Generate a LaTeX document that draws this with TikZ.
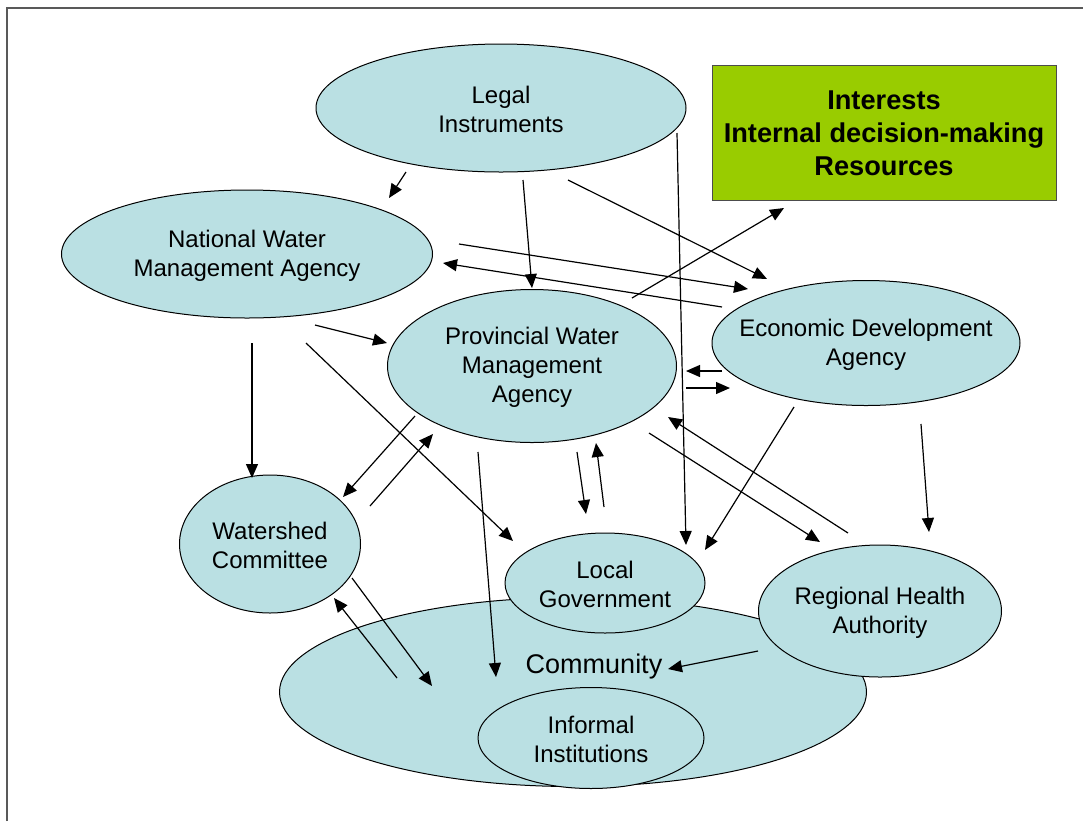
\documentclass[tikz,border=0pt]{standalone}
\usepackage{fontspec}
\setmainfont{Liberation Sans}
\usetikzlibrary{shapes.geometric,arrows.meta}
\definecolor{pale}{RGB}{186,224,227}
\definecolor{leaf}{RGB}{153,204,0}
\tikzset{>={Triangle[length=7pt,width=6pt]}}
\tikzset{
    actor/.style={ellipse, draw, fill=pale, line width=0.5pt, inner sep=0pt},
    actortext/.style={align=center, yshift=-0.8pt, font=\fontsize{12}{14.5}\selectfont},
}
% ellipse with its text: name, x, y, width, height (px), text
\newcommand{\actor}[6]{
    \node[actor, minimum width=#4*0.5pt, minimum height=#5*0.5pt] (#1) at (#2,#3) {};
    \node[actortext] (#1-text) at (#1) {#6};
}
% loose arrow between two named points
\newcommand{\flow}[3]{
    \coordinate (#1-from) at (#2);
    \coordinate (#1-to) at (#3);
    \draw[->, line width=0.6pt] (#1-from) -- (#1-to);
}

\begin{document}
\begin{tikzpicture}[x=0.5pt,y=-0.5pt]
    \useasboundingbox (0,0) rectangle (1083,821);
    \draw[black!65, line width=0.7pt] (7,821) -- (7,8) -- (1083,8);

    % community sits underneath
    \node[actor, minimum width=293.5pt, minimum height=94.5pt] (com) at (573,692) {};
    \node[font=\fontsize{13.5}{16}\selectfont] (com-text) at (594,667) {Community};

    \actor{li}{501}{108}{370}{128}{Legal\\Instruments}
    \actor{nw}{247}{254}{371}{128}{National Water\\Management Agency}
    \actor{pw}{532}{366}{289}{153}{Provincial Water\\Management\\Agency}
    \actor{ed}{866}{343}{308}{125}{Economic Development\\Agency}
    \actor{wc}{270}{544}{181}{138}{Watershed\\Committee}
    \actor{lg}{605}{583}{200}{100}{Local\\Government}
    \actor{rh}{880}{611}{243}{132}{Regional Health\\Authority}
    \actor{ii}{591}{738}{226}{101}{Informal\\Institutions}

    \node[draw=black!70, fill=leaf, minimum width=172pt, minimum height=67.5pt, inner sep=0pt,
          align=center, font=\bfseries\fontsize{13.6}{16.5}\selectfont]
        (ird) at (884,133) {Interests\\Internal decision-making\\Resources};

    \flow{li-nw}{406,172}{389,198}
    \flow{li-pw}{523,180}{532,288}
    \flow{li-ed}{568,180}{767,279}
    \flow{li-lg}{677,133}{686,545}
    \flow{nw-ed}{459,244}{748,289}
    \flow{ed-nw}{722,307}{443,263}
    \flow{pw-ird}{632,298}{784,208}
    \flow{nw-pw}{315,325}{387,343}
    \flow{nw-wc}{252,343}{252,478}
    \flow{nw-lg}{306,343}{513,541}
    \flow{pw-wc}{415,416}{343,497}
    \flow{wc-pw}{370,506}{433,434}
    \flow{pw-com}{478,452}{496,677}
    \flow{pw-lg}{577,452}{586,514}
    \flow{lg-pw}{604,507}{596,443}
    \flow{ed-pw}{722,371}{686,371}
    \flow{pw-ed}{686,388}{730,388}
    \flow{pw-rh}{649,433}{820,542}
    \flow{rh-pw}{848,533}{668,417}
    \flow{ed-lg}{794,407}{705,550}
    \flow{ed-rh}{921,424}{929,532}
    \flow{wc-com}{352,578}{432,686}
    \flow{com-wc}{397,678}{334,598}
    \flow{rh-com}{758,651}{668,669}
\end{tikzpicture}
\end{document}
